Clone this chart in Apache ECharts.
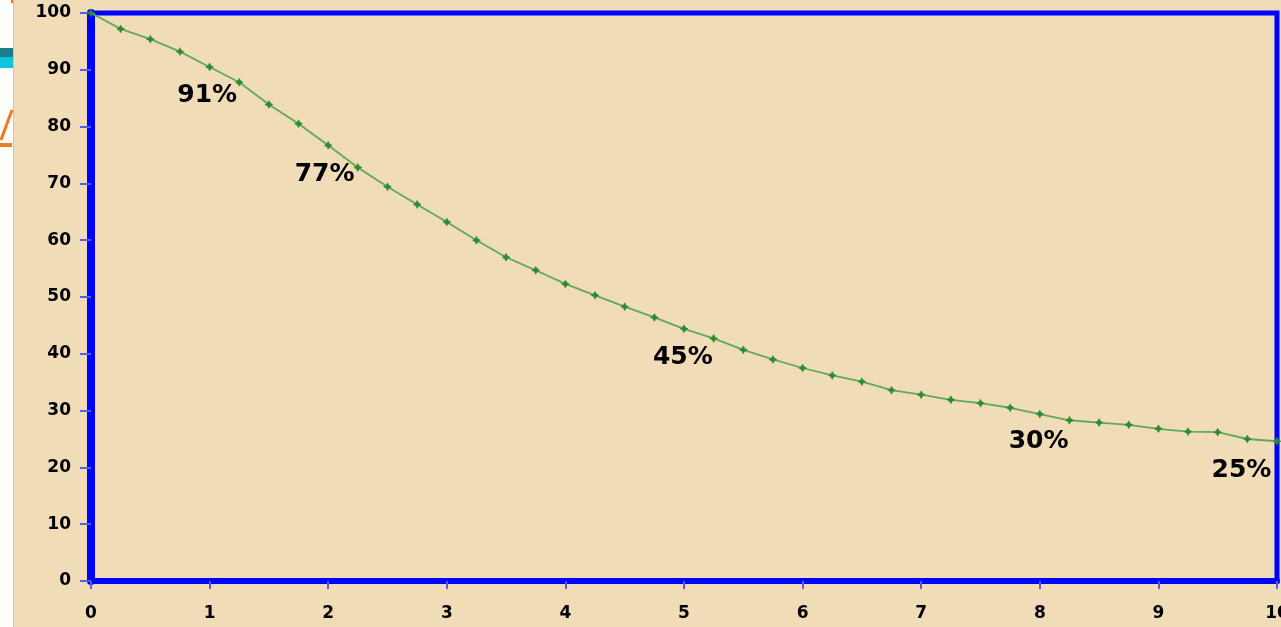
<!DOCTYPE html>
<html>
<head>
<meta charset="utf-8">
<script src="https://cdn.jsdelivr.net/npm/echarts@6/dist/echarts.min.js"></script>
<style>
html,body{margin:0;padding:0;background:#fff;}
#c{width:1281px;height:627px;}
</style>
</head>
<body>
<div id="c"></div>
<script>
// Data
const years = [0,0.25,0.5,0.75,1,1.25,1.5,1.75,2,2.25,2.5,2.75,3,3.25,3.5,3.75,4,4.25,4.5,4.75,5,5.25,5.5,5.75,6,6.25,6.5,6.75,7,7.25,7.5,7.75,8,8.25,8.5,8.75,9,9.25,9.5,9.75,10];
const survival = [100,97.2,95.4,93.2,90.5,87.8,83.9,80.5,76.7,72.8,69.4,66.3,63.2,60.0,57.0,54.7,52.3,50.3,48.3,46.4,44.4,42.7,40.7,39.0,37.5,36.2,35.1,33.6,32.8,31.9,31.3,30.5,29.4,28.3,27.9,27.5,26.8,26.3,26.2,25.0,24.6];
const annotationText = ['91%','77%','45%','30%','25%'];
const annotationX = [0.98,1.97,4.99,7.99,9.70];
const annotationY = [85.4,71.6,39.3,24.5,19.4];

const chart = echarts.init(document.getElementById('c'), null, {renderer:'canvas'});
const lineData = years.map((x,i)=>[x, survival[i]]);
const annData = annotationText.map((t,i)=>({name:t, value:[annotationX[i], annotationY[i]]}));
const tickFont = {fontFamily:'DejaVu Sans', fontWeight:'bold', fontSize:17, color:'#000'};

chart.setOption({
  backgroundColor:'#F0DCB7',
  animation:false,
  graphic:[
    {type:'rect', shape:{x:0,y:0,width:13,height:627}, style:{fill:'#ffffff'}, z:-1},
    {type:'rect', shape:{x:13,y:0,width:1,height:627}, style:{fill:'#c4c4cc'}, z:-1},
    {type:'rect', shape:{x:11,y:0,width:2,height:3}, style:{fill:'#f07a20'}, z:-1},
    {type:'rect', shape:{x:0,y:48,width:13,height:9}, style:{fill:'#1a7f8c'}, z:-1},
    {type:'rect', shape:{x:0,y:57,width:13,height:11}, style:{fill:'#10c4dc'}, z:-1},
    {type:'line', shape:{x1:1,y1:140,x2:12,y2:110}, style:{stroke:'#f07a20', lineWidth:3}, z:-1},
    {type:'rect', shape:{x:0,y:143,width:12,height:4}, style:{fill:'#f07a20'}, z:-1}
  ],
  grid:{left:91, right:4, top:13, bottom:46, show:true, borderColor:'#0000ff', borderWidth:5,
        backgroundColor:'transparent', containLabel:false, outerBoundsMode:'none'},
  xAxis:{
    type:'value', min:0, max:10, interval:1,
    axisLine:{show:true, onZero:false, lineStyle:{color:'#0000ff', width:6}},
    axisTick:{show:true, length:8, lineStyle:{color:'#5a5af0', width:2}},
    axisLabel:Object.assign({margin:24}, tickFont),
    splitLine:{show:false}
  },
  yAxis:{
    type:'value', min:0, max:100, interval:10,
    axisLine:{show:true, onZero:false, lineStyle:{color:'#0000ff', width:8}},
    axisTick:{show:true, length:11, lineStyle:{color:'#5a5af0', width:2}},
    axisLabel:Object.assign({margin:20}, tickFont),
    splitLine:{show:false}
  },
  series:[
    {
      type:'line', data:lineData,
      lineStyle:{color:'#62a95a', width:1.8},
      symbol:'path://M0,-5L1.8,-1.8L5,0L1.8,1.8L0,5L-1.8,1.8L-5,0L-1.8,-1.8Z',
      symbolSize:8,
      showSymbol:true,
      itemStyle:{color:'#2e8a2e', borderColor:'#2e8a2e', borderWidth:0.5},
      z:3
    },
    {
      type:'scatter', data:annData, symbolSize:0,
      itemStyle:{color:'#000', opacity:1},
      label:{show:true, position:'inside', formatter:p=>p.name,
        fontFamily:'DejaVu Sans', fontWeight:'bold', fontSize:25, color:'#000',
        textBorderWidth:0},
      z:4
    }
  ]
});
</script>
</body>
</html>
